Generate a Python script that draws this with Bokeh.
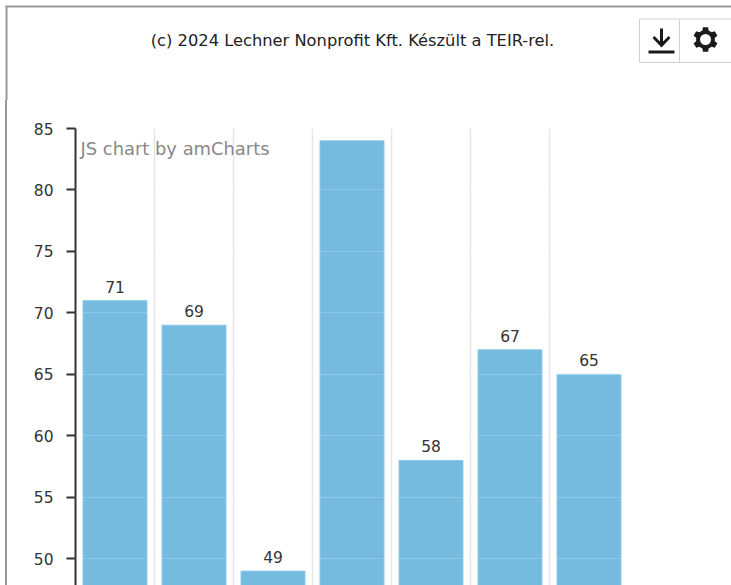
import math
from bokeh.plotting import figure
from bokeh.core.properties import value
from bokeh.layouts import column
from bokeh.models import (ColumnDataSource, Range1d, FixedTicker, LabelSet, Label)
from bokeh.embed import file_html
from bokeh.resources import INLINE

categories = ["1", "2", "3", "4", "5", "6", "7"]
values = [71, 69, 49, 84, 58, 67, 65]
value_labels = ["71", "69", "49", "", "58", "67", "65"]
y_ticks = [50, 55, 60, 65, 70, 75, 80, 85]
title_text = "(c) 2024 Lechner Nonprofit Kft. Készült a TEIR-rel."
credit_text = "JS chart by amCharts"

FONT = "DejaVu Sans"
W, H, TOP, HEAD = 731, 585, 128, 100
positions = [i + 0.5 for i in range(len(categories))]
src = ColumnDataSource(dict(x=positions, top=values, label=value_labels))

# ---- main chart
p = figure(width=W, height=H - HEAD, output_backend="svg", toolbar_location=None,
           x_range=Range1d(0, len(categories)), y_range=Range1d(47.83, 85),
           min_border_left=75, min_border_right=103, min_border_top=TOP - HEAD, min_border_bottom=0,
           outline_line_color=None, margin=0, frame_align=False, border_fill_color=None,
           styles={"background": "linear-gradient(#999,#999) 5px 0 / 2px 100% no-repeat"})
p.xaxis.visible = False
p.xgrid.ticker = FixedTicker(ticks=list(range(1, len(categories) + 1)))
p.xgrid.grid_line_color = "#e6e6e6"
p.xgrid.grid_line_width = 1.5
p.ygrid.ticker = FixedTicker(ticks=y_ticks)
p.ygrid.grid_line_color = "#ffffff"
p.ygrid.grid_line_alpha = 0.18
p.ygrid.level = "overlay"

ax = p.yaxis[0]
ax.ticker = FixedTicker(ticks=y_ticks)
ax.axis_line_color = "#333333"
ax.axis_line_width = 2
ax.major_tick_line_color = "#333333"
ax.major_tick_line_width = 2
ax.major_tick_out = 9
ax.major_tick_in = 0
ax.minor_tick_line_color = None
ax.major_label_text_font = FONT
ax.major_label_text_font_size = "15.5px"
ax.major_label_text_color = "#333333"
ax.major_label_standoff = 13

p.vbar(x="x", top="top", bottom=0, width=0.81, source=src,
       fill_color="#74bbdf", line_color="#8ccaea", line_width=1)
p.add_layout(LabelSet(x="x", y="top", text="label", source=src, text_align="center",
                      text_baseline="bottom", y_offset=8, text_font=value(FONT),
                      text_font_size="15.5px", text_color="#333333"))
p.add_layout(Label(x=80, y=148 - HEAD, x_units="canvas", y_units="canvas", text=credit_text,
                   text_font=FONT, text_font_size="17.9px", text_color="#888888",
                   text_baseline="middle"))

# ---- header strip: title and export buttons, in page pixels
h = figure(width=W, height=HEAD, output_backend="svg", toolbar_location=None,
           x_range=Range1d(0, W), y_range=Range1d(HEAD, 0),
           min_border=0, outline_line_color=None, margin=0, frame_align=False)
h.axis.visible = False
h.grid.visible = False
h.quad(left=[5], right=[W], top=[5], bottom=[7], fill_color="#999999", line_color=None)
h.quad(left=[5], right=[7], top=[5], bottom=[HEAD], fill_color="#999999", line_color=None)
h.quad(left=[639], right=[W + 2], top=[18.5], bottom=[62], fill_color="#ffffff", line_color="#d0d0d0")
h.segment(x0=[679], x1=[679], y0=[19], y1=[62], line_color="#d0d0d0")
h.text(x=[352], y=[40], text=[title_text], text_align="center", text_baseline="middle",
       text_font=value(FONT), text_font_size="16.3px", text_color="#222222")
h.quad(left=[659.5], right=[662.5], top=[28], bottom=[45], fill_color="#1a1a1a", line_color=None)
h.patch(x=[652, 654, 661, 668, 670, 661], y=[37.5, 35.5, 42.5, 35.5, 37.5, 47], fill_color="#1a1a1a", line_color=None)
h.quad(left=[648], right=[674], top=[50], bottom=[53], fill_color="#1a1a1a", line_color=None)
cx, cy = 705, 39
gx, gy = [], []
for k in range(6):
    a = math.radians(60 * k - 90)
    for da, r in [(-19, 9.5), (-12, 12.5), (12, 12.5), (19, 9.5)]:
        gx.append(cx + r * math.cos(a + math.radians(da)))
        gy.append(cy + r * math.sin(a + math.radians(da)))
h.patch(x=gx, y=gy, fill_color="#1a1a1a", line_color=None)
h.circle(x=[cx], y=[cy], radius=5.5, fill_color="#ffffff", line_color=None)

page = column(h, p, spacing=0, margin=0)
open("out.html", "w").write(file_html(page, INLINE))
